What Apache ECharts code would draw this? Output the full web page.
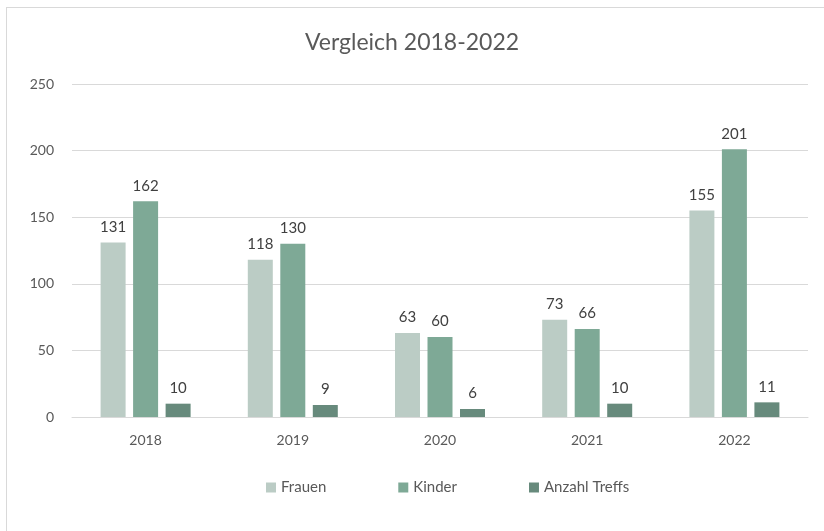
<!DOCTYPE html>
<html>
<head>
<meta charset="utf-8">
<script src="https://cdn.jsdelivr.net/npm/echarts@6/dist/echarts.min.js"></script>
<style>html,body{margin:0;padding:0;background:#fff}#c{width:824px;height:531px}</style>
</head>
<body>
<div id="c"></div>
<script>
var categories = ['2018', '2019', '2020', '2021', '2022'];
var frauen = [131, 118, 63, 73, 155];
var kinder = [162, 130, 60, 66, 201];
var treffs = [10, 9, 6, 10, 11];
var seriesNames = ['Frauen', 'Kinder', 'Anzahl Treffs'];
var yTicks = [0, 50, 100, 150, 200, 250];

var colors = ['#BBCCC5', '#7EA996', '#678A7C'];
var font = 'Lato, "Open Sans", sans-serif';
var chart = echarts.init(document.getElementById('c'), null, {renderer: 'canvas'});
function mk(name, data, i) {
  return {
    name: name, type: 'bar', data: data, barWidth: 25, barGap: '30%',
    itemStyle: {color: colors[i]},
    label: {show: true, position: 'top', distance: 8, color: '#404040', fontSize: 15, fontFamily: font}
  };
}
chart.setOption({
  animation: false,
  title: {text: 'Vergleich 2018-2022', left: 'center', top: 26,
    textStyle: {color: '#595959', fontSize: 23, fontWeight: 'normal', fontFamily: font}},
  legend: {bottom: 31, left: 261, itemWidth: 10, itemHeight: 10, itemGap: 72, icon: 'rect',
    textStyle: {color: '#595959', fontSize: 15, fontFamily: font}},
  grid: {left: 72, right: 16, top: 84, bottom: 114},
  xAxis: {type: 'category', data: categories,
    axisLine: {lineStyle: {color: '#D9D9D9'}}, axisTick: {show: false},
    axisLabel: {color: '#595959', fontSize: 14, fontFamily: font, margin: 16}},
  yAxis: {type: 'value', min: yTicks[0], max: yTicks[yTicks.length - 1], interval: 50,
    axisLine: {show: false}, axisTick: {show: false},
    splitLine: {lineStyle: {color: '#D9D9D9'}},
    axisLabel: {color: '#595959', fontSize: 14, fontFamily: font, margin: 18}},
  series: [mk(seriesNames[0], frauen, 0), mk(seriesNames[1], kinder, 1), mk(seriesNames[2], treffs, 2)],
  graphic: [
    {type: 'line', shape: {x1: 6.5, y1: 7, x2: 6.5, y2: 531}, style: {stroke: '#D9D9D9', lineWidth: 1}},
    {type: 'line', shape: {x1: 6, y1: 7.5, x2: 824, y2: 7.5}, style: {stroke: '#D9D9D9', lineWidth: 1}}
  ]
});
</script>
</body>
</html>
